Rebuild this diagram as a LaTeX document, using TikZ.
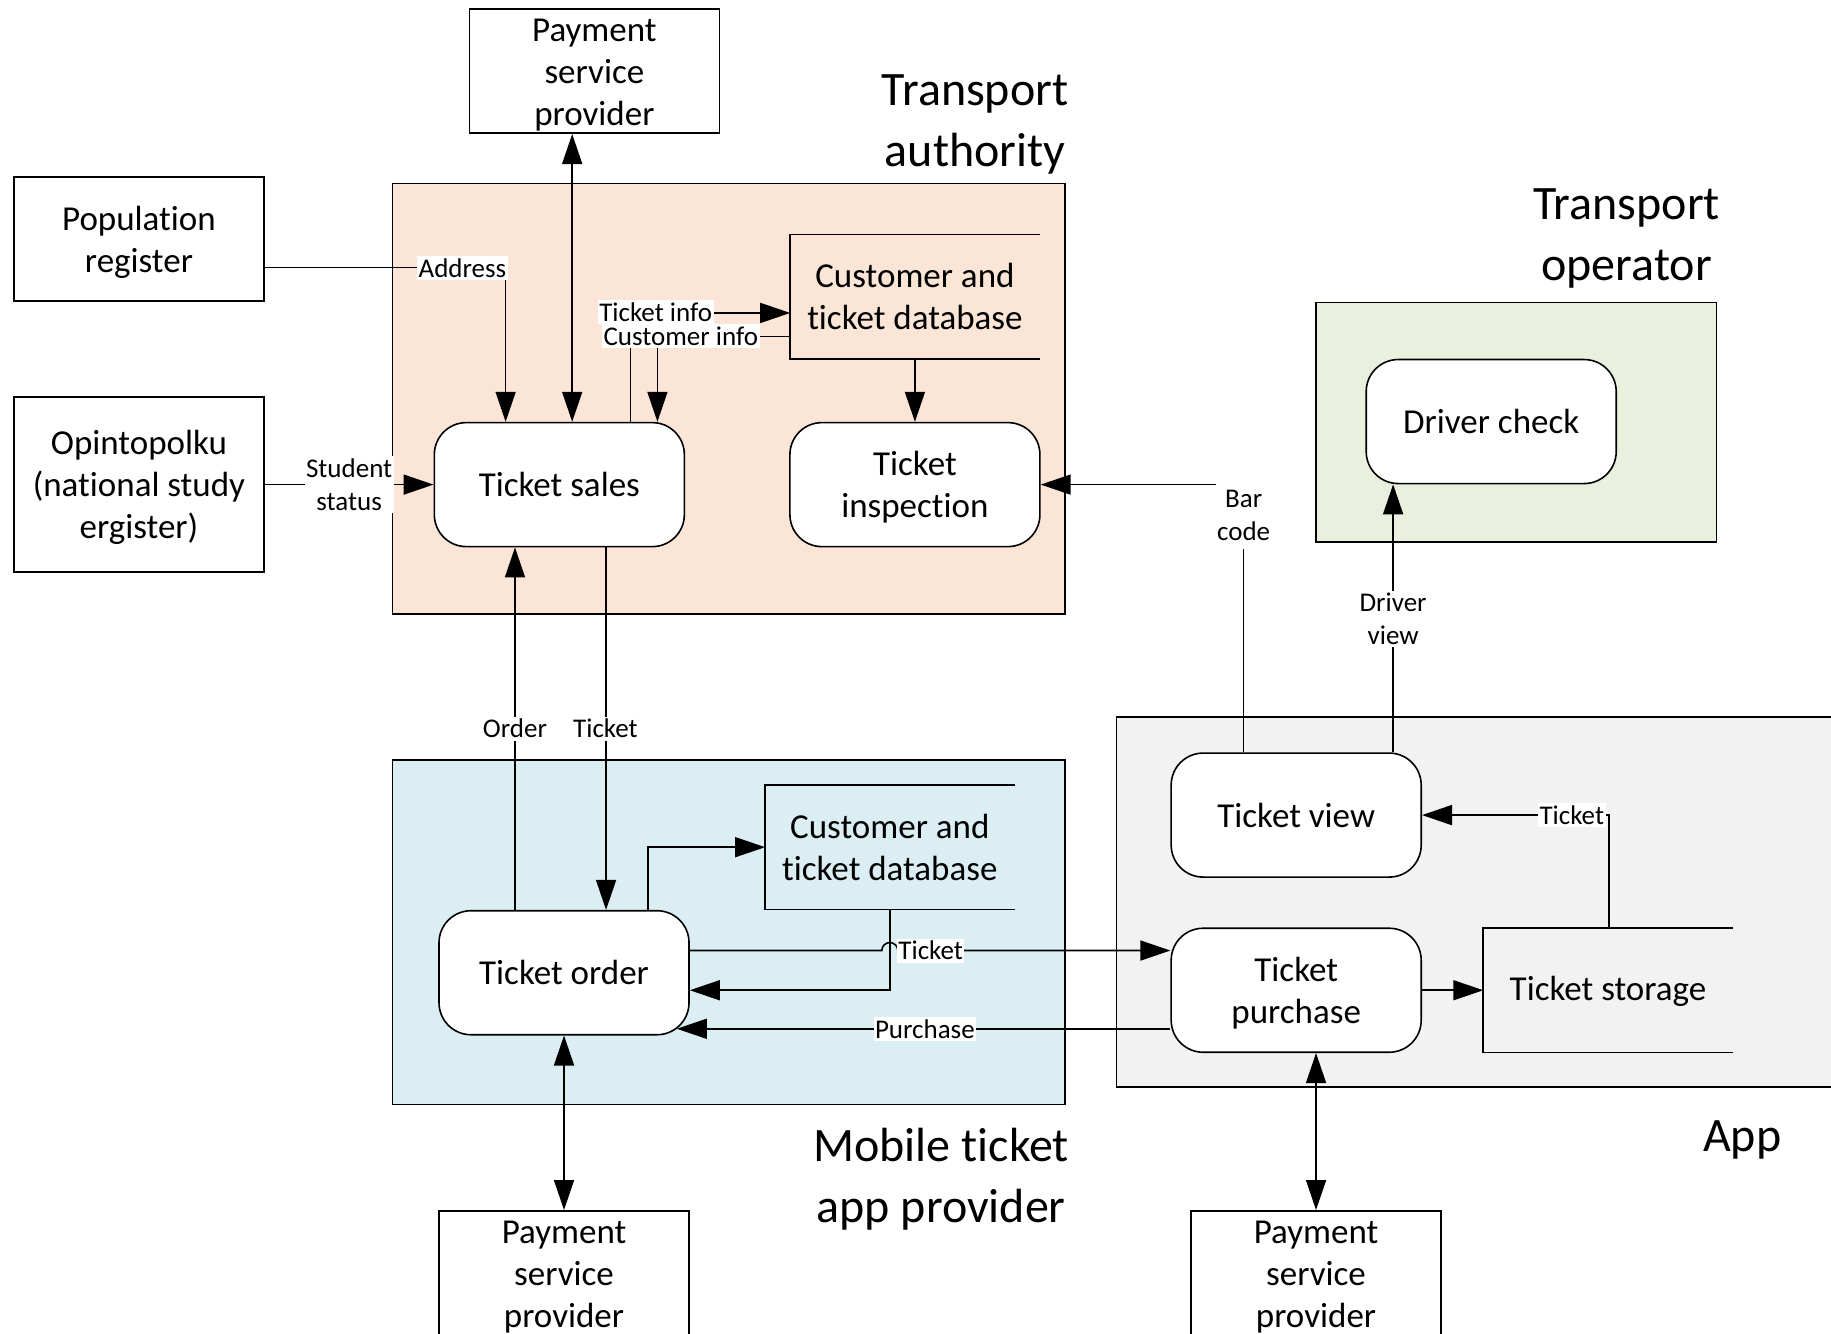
\documentclass[tikz,border=0pt]{standalone}
\usepackage{fontspec}
\setmainfont{Carlito}[Ligatures={NoCommon}]
\usetikzlibrary{arrows.meta}
\definecolor{peach}{HTML}{FBE5D6}
\definecolor{lgreen}{HTML}{E9F0DE}
\definecolor{lblue}{HTML}{DAEEF3}
\definecolor{lgray}{HTML}{F2F2F2}
\newcommand\mainsz{\fontsize{35}{42}\selectfont}
\newcommand\labsz{\fontsize{27}{33}\selectfont}
\newcommand\titsz{\fontsize{48}{61}\selectfont}
\tikzset{
  ln/.style={line width=1.6pt},
  arr/.style={line width=1.6pt,-{Triangle[length=30pt,width=20pt]}},
  darr/.style={line width=1.6pt,{Triangle[length=30pt,width=20pt]}-{Triangle[length=30pt,width=20pt]}},
  region/.style={draw,line width=1.6pt},
  ext/.style={draw,line width=1.6pt,fill=white,minimum width=250pt,minimum height=124pt,align=center,font=\mainsz,inner sep=0pt},
  proc/.style={draw,line width=1.6pt,fill=white,rounded corners=32pt,minimum width=250pt,minimum height=124pt,align=center,font=\mainsz,inner sep=0pt},
  store/.style={minimum width=249pt,minimum height=124pt,align=center,font=\mainsz,inner sep=0pt},
  two/.style={text height=66.5pt,text depth=0pt},
  three/.style={text height=108.5pt,text depth=0pt},
  lab/.style={fill=white,font=\labsz,inner xsep=1.5pt,inner ysep=2.5pt,align=center},
  ttl/.style={font=\titsz,align=center}
}
\begin{document}
\begin{tikzpicture}[x=1.1677pt,y=-1.1677pt]
\useasboundingbox (0,0) rectangle (1568,1142);
% regions
\draw[region,fill=peach] (336,157) rectangle (912,526);
\draw[region,fill=lgreen] (1127,259) rectangle (1470,464);
\draw[region,fill=lblue] (336,651) rectangle (912,946);
\draw[region,fill=lgray] (956,614) rectangle (1590,931);
% titles
\node[ttl] (tta) at (835,107) {Transport\\authority};
\node[ttl] (tto) at (1393,204) {Transport\\operator};
\node[ttl] (tmo) at (806,1010) {Mobile ticket\\app provider};
\node[ttl] (tapp) at (1492,976) {App};
% nodes
\node[ext,three] (pay1) at (509,61) {Payment\\service\\provider};
\node[ext,two] (pop) at (119,204.5) {Population\\register};
\node[ext,three,minimum height=175pt] (opi) at (119,415) {Opintopolku\\(national study\\ergister)};
\node[proc] (ts) at (479,415) {Ticket sales};
\node[store,two] (db1) at (783.5,254) {Customer and\\ticket database};
\draw[ln] (db1.north east) -- (db1.north west) -- (db1.south west) -- (db1.south east);
\node[proc,two] (ti) at (783.5,415) {Ticket\\inspection};
\node[proc] (dc) at (1277,361) {Driver check};
\node[proc] (tv) at (1110,698) {Ticket view};
\node[proc,two] (tp) at (1110,848) {Ticket\\purchase};
\node[store,text depth=4pt] (tstor) at (1377,848) {Ticket storage};
\draw[ln] (tstor.north east) -- (tstor.north west) -- (tstor.south west) -- (tstor.south east);
\node[store,two] (db2) at (762,725.5) {Customer and\\ticket database};
\draw[ln] (db2.north east) -- (db2.north west) -- (db2.south west) -- (db2.south east);
\node[proc] (to) at (483,833) {Ticket order};
\node[ext,three] (pay2) at (483,1090) {Payment\\service\\provider};
\node[ext,three] (pay3) at (1127,1090) {Payment\\service\\provider};
% connectors
\draw[darr] (pay1.south -| 490,0) -- (ts.north -| 490,0);
\draw[arr] (pop.east |- 0,229) -| (ts.north -| 433,0);
\draw[arr] (opi.east) -- (ts.west);
\draw[arr] (ts.north -| 540,0) |- (db1.west |- 0,268);
\draw[arr] (db1.west |- 0,288) -| (ts.north -| 563,0);
\draw[arr] (db1.south) -- (ti.north);
\draw[arr] (tv.north -| 1065,0) |- (ti.east);
\draw[arr] (tv.north -| 1193,0) -- (dc.south -| 1193,0);
\draw[arr] (ts.south -| 519,0) -- (to.north -| 519,0);
\draw[arr] (to.north -| 441,0) -- (ts.south -| 441,0);
\draw[arr] (to.north -| 555,0) |- (db2.west);
\draw[arr] (db2.south) |- (to.east |- 0,848);
\draw[arr] (to.east |- 0,814) -- (755.15,814) arc[start angle=180,end angle=0,radius=8pt] -- (tp.west |- 0,814);
\draw[arr] (tp.west |- 0,881) -- ([xshift=-13pt]to.east |- 0,881);
\draw[arr] (tp.east) -- (tstor.west);
\draw[arr] (tstor.north -| 1378,0) |- (tv.east);
\draw[darr] (to.south) -- (pay2.north);
\draw[darr] (tp.south -| pay3.north) -- (pay3.north);
% labels
\node[lab] (lAddr) at (396,229.5) {Address};
\node[lab] (lStud) at (299,415) {Student\\status};
\node[lab] (lTinfo) at (561.5,267) {Ticket info};
\node[lab] (lCinfo) at (583,288) {Customer info};
\node[lab,inner ysep=8pt] (lBar) at (1065,441.5) {Bar\\code};
\node[lab] (lDrv) at (1193,530) {Driver\\view};
\node[lab] (lOrder) at (441,624) {Order};
\node[lab] (lTk1) at (518.5,624) {Ticket};
\node[lab] (lTk2) at (797,814) {Ticket};
\node[lab] (lPur) at (792,881) {Purchase};
\node[lab] (lTk3) at (1346,698) {Ticket};
\end{tikzpicture}
\end{document}
